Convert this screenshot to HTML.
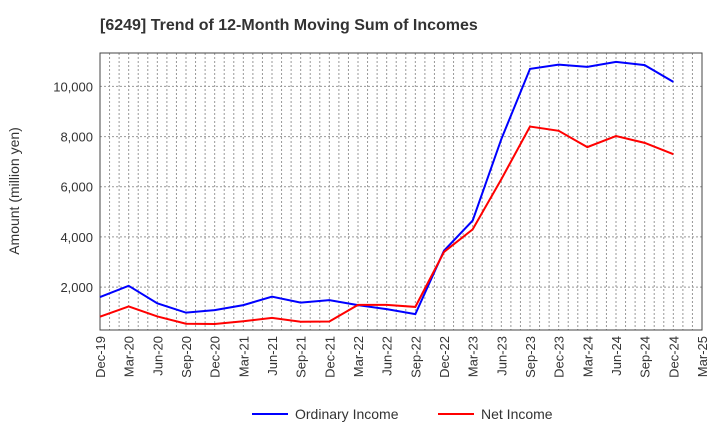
<!DOCTYPE html>
<html><head><meta charset="utf-8"><style>
body{margin:0;background:#fff;font-family:"Liberation Sans",sans-serif}
</style></head><body>
<svg id="chart" width="720" height="440" xmlns="http://www.w3.org/2000/svg">
<text x="100" y="30" font-size="16" font-weight="bold" fill="#333">[6249]  Trend of 12-Month Moving Sum of Incomes</text>
<text transform="translate(19,191) rotate(-90)" text-anchor="middle" font-size="14" fill="#333">Amount (million yen)</text>
<g id="grid"></g><g id="axes"></g><g id="series"></g>
<g>
<line x1="252" y1="414" x2="288" y2="414" stroke="#0000ff" stroke-width="2"/>
<text x="295" y="419" font-size="14" fill="#333">Ordinary Income</text>
<line x1="438" y1="414" x2="474" y2="414" stroke="#ff0000" stroke-width="2"/>
<text x="481" y="419" font-size="14" fill="#333">Net Income</text>
</g>
</svg>
<script>
const categories=["Dec-19","Mar-20","Jun-20","Sep-20","Dec-20","Mar-21","Jun-21","Sep-21","Dec-21","Mar-22","Jun-22","Sep-22","Dec-22","Mar-23","Jun-23","Sep-23","Dec-23","Mar-24","Jun-24","Sep-24","Dec-24","Mar-25"];
const ordinaryIncome=[1600,2050,1350,980,1080,1280,1620,1380,1480,1280,1120,920,3450,4650,7900,10700,10870,10780,10980,10850,10180];
const netIncome=[820,1230,830,540,530,640,770,620,630,1290,1290,1210,3400,4300,6300,8400,8230,7580,8020,7750,7300];
const yTicks=[2000,4000,6000,8000,10000];
const yTickLabels=["2,000","4,000","6,000","8,000","10,000"];
const NS="http://www.w3.org/2000/svg";
const L=100,R=702,T=53,B=330,yMin=289,yMax=11332;
const xs=i=>L+i*(R-L)/(categories.length-1);
const ys=v=>B-(v-yMin)/(yMax-yMin)*(B-T);
function mk(t,a,p){const e=document.createElementNS(NS,t);for(const k in a)e.setAttribute(k,a[k]);p.appendChild(e);return e;}
const grid=document.getElementById('grid'),axes=document.getElementById('axes'),ser=document.getElementById('series');
for(let m=0;m<=63;m++){const x=L+m*(R-L)/63;
const g=mk('line',{x1:x,x2:x,y1:T,y2:B,stroke:'#999','stroke-dasharray':'2,2','stroke-width':1},grid);

}
yTicks.forEach((v,i)=>{const y=ys(v);
const g=mk('line',{x1:L,x2:R,y1:y,y2:y,stroke:'#999','stroke-dasharray':'2,2'},grid);


const t=mk('text',{x:L-7,y:y+5,'text-anchor':'end','font-size':13,fill:'#333'},axes);t.textContent=yTickLabels[i];

});
const fr=mk('rect',{x:L,y:T,width:R-L,height:B-T,fill:'none',stroke:'#444','stroke-width':1},axes);


categories.forEach((c,i)=>{const x=xs(i);
const t=mk('text',{transform:`translate(${x+5},${B+6}) rotate(-90)`,'text-anchor':'end','font-size':13,fill:'#333'},axes);t.textContent=c;

});
function line(d,col,name){const p=mk('polyline',{points:d.map((v,i)=>xs(i)+','+ys(v)).join(' '),fill:'none',stroke:col,'stroke-width':2},ser);

}
line(ordinaryIncome,'#0000ff','ordinary-income-line');
line(netIncome,'#ff0000','net-income-line');
</script>
</body></html>
